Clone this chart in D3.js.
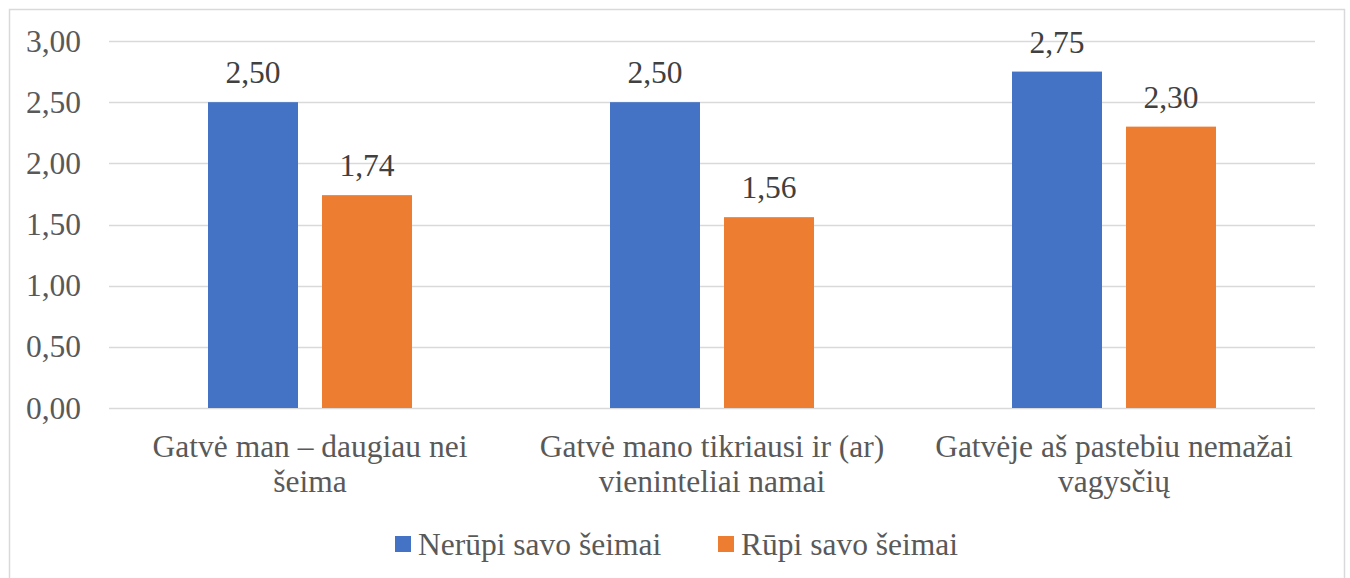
<!DOCTYPE html>
<html>
<head>
<meta charset="utf-8">
<script src="https://cdn.jsdelivr.net/npm/d3@7"></script>
</head>
<body style="margin:0">
<script>
// data
var categories = [
	"Gatvė man – daugiau nei šeima",
	"Gatvė mano tikriausi ir (ar) vieninteliai namai",
	"Gatvėje aš pastebiu nemažai vagysčių"
];
var seriesNames = ["Nerūpi savo šeimai", "Rūpi savo šeimai"];
var nerupi = [2.50, 2.50, 2.75];
var rupi = [1.74, 1.56, 2.30];
var yTicks = [0, 0.5, 1, 1.5, 2, 2.5, 3];

var colors = ["#4472C4", "#ED7D31"];
var FONT = "Liberation Serif";
var FS = 31.5;
var W = 1350, H = 578;
var margin = { left: 109, right: 35, top: 41, bottom: 170 };
var width = W - margin.left - margin.right,
	height = H - margin.top - margin.bottom;

var comma = function (v) { return d3.format(".2f")(v).replace(".", ","); };

var svg = d3.select("body")
	.append("svg")
	.attr("width", W)
	.attr("height", H)
	.attr("font-family", FONT)
	.style("font-family", FONT);

// outer border
svg.append("rect")
	.attr("x", 9.5)
	.attr("y", 9.5)
	.attr("width", 1335)
	.attr("height", 600)
	.attr("fill", "none")
	.attr("stroke", "#D9D9D9")
	.attr("stroke-width", 1.5);

var g = svg.append("g")
	.attr("transform", "translate(" + margin.left + "," + margin.top + ")");

// scales
var x0 = d3.scaleBand()
	.domain(categories)
	.range([0, width]);

var y = d3.scaleLinear()
	.domain([0, 3])
	.range([height, 0]);

var barW = 90, gap = 24;

// gridlines
g.append("g")
	.selectAll("line")
	.data(yTicks)
	.enter()
	.append("line")
	.attr("x1", 0)
	.attr("x2", width)
	.attr("y1", function (d) { return Math.round(y(d)) + 0.5; })
	.attr("y2", function (d) { return Math.round(y(d)) + 0.5; })
	.attr("stroke", "#D9D9D9")
	.attr("stroke-width", 1.5);

// y axis
var yAxis = d3.axisLeft(y)
	.tickValues(yTicks)
	.tickFormat(comma)
	.tickSize(0)
	.tickPadding(28);

var yg = g.append("g").call(yAxis)
	.attr("font-family", FONT)
	.attr("font-size", FS);
yg.select(".domain").remove();
yg.selectAll("text")
	.style("font-family", FONT)
	.attr("fill", "#595959");

// bars
var series = [nerupi, rupi];
series.forEach(function (vals, s) {
	var offset = s === 0 ? -(barW + gap / 2) : gap / 2;
	var grp = g.append("g");
	grp.selectAll("rect")
		.data(vals)
		.enter()
		.append("rect")
		.attr("x", function (d, i) { return x0(categories[i]) + x0.bandwidth() / 2 + offset; })
		.attr("y", function (d) { return y(d); })
		.attr("width", barW)
		.attr("height", function (d) { return height - y(d); })
		.attr("fill", colors[s]);

	grp.selectAll("text")
		.data(vals)
		.enter()
		.append("text")
		.attr("x", function (d, i) { return x0(categories[i]) + x0.bandwidth() / 2 + offset + barW / 2; })
		.attr("y", function (d) { return y(d) - 19; })
		.attr("text-anchor", "middle")
		.attr("font-size", FS)
		.style("font-family", FONT)
		.attr("fill", "#404040")
		.text(function (d) { return comma(d); });
});

// category labels, wrapped
var catG = g.append("g");
categories.forEach(function (c) {
	var cx = x0(c) + x0.bandwidth() / 2;
	var t = catG.append("text")
		.attr("x", cx)
		.attr("y", height + 49)
		.attr("text-anchor", "middle")
		.attr("font-size", FS)
		.style("font-family", FONT)
		.attr("fill", "#595959");
	var words = c.split(" "), line = [];
	var tspan = t.append("tspan").attr("x", cx).attr("dy", 0);
	words.forEach(function (w) {
		line.push(w);
		tspan.text(line.join(" "));
		if (tspan.node().getComputedTextLength() > 382 && line.length > 1) {
			line.pop();
			tspan.text(line.join(" "));
			line = [w];
			tspan = t.append("tspan")
				.attr("x", cx)
				.attr("dy", 35)
				.text(w);
		}
	});
});

// legend
var legend = svg.append("g").attr("class", "legend");
var legX = [395, 718];
seriesNames.forEach(function (n, i) {
	legend.append("rect")
		.attr("x", legX[i])
		.attr("y", 536)
		.attr("width", 16)
		.attr("height", 16)
		.attr("fill", colors[i]);
	legend.append("text")
		.attr("x", legX[i] + 23)
		.attr("y", 555)
		.attr("font-size", FS)
		.style("font-family", FONT)
		.attr("fill", "#595959")
		.text(n);
});
</script>
</body>
</html>
